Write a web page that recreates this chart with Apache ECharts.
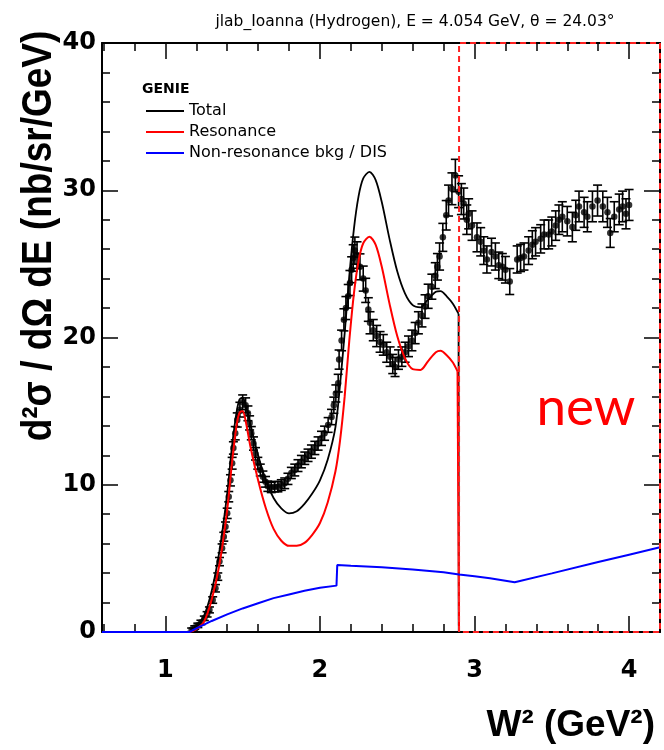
<!DOCTYPE html>
<html><head><meta charset="utf-8">
<script src="https://cdn.jsdelivr.net/npm/echarts@6/dist/echarts.min.js"></script>
<style>html,body{margin:0;padding:0;background:#fff}#c{width:664px;height:750px}</style>
</head><body><div id="c"></div>
<script>
// ---------- text ----------
const titleText = 'jlab_Ioanna (Hydrogen), E = 4.054 GeV, \u03b8 = 24.03\u00b0';
const yTitle = 'd\u00b2\u03c3 / d\u03a9 dE (nb/sr/GeV)';
const xTitle = 'W\u00b2 (GeV\u00b2)';
const legendHeader = 'GENIE';
const seriesNames = ['Total', 'Resonance', 'Non-resonance bkg / DIS'];
const stampText = 'new';

// ---------- axes ----------
const xRange = [0.59, 4.2];
const yRange = [0, 40];
const xMajorTicks = [1, 2, 3, 4];
const xMinorTicks = [0.6, 0.8, 1.2, 1.4, 1.6, 1.8, 2.2, 2.4, 2.6, 2.8, 3.2, 3.4, 3.6, 3.8];
const yMajorStep = 10;

// ---------- cut region (dashed box) ----------
const boxW = [2.9, 2.9, 4.2, 4.2, 2.9];
const boxV = [0, 40, 40, 0, 0];

// ---------- data (W^2, cross section, error) ----------
const dataW = [1.17,1.19,1.21,1.23,1.252,1.27,1.285,1.306,1.324,1.339,1.35,1.367,1.378,1.389,1.40,1.41,1.421,1.432,1.44,1.452,1.465,1.482,1.50,1.519,1.534,1.545,1.556,1.57,1.583,1.598,1.614,1.631,1.648,1.663,1.685,1.707,1.728,1.75,1.772,1.793,1.815,1.837,1.858,1.88,1.902,1.923,1.945,1.967,1.988,2.01,2.03,2.053,2.075,2.09,2.103,2.118,2.124,2.14,2.155,2.168,2.183,2.194,2.205,2.215,2.226,2.24,2.259,2.28,2.296,2.313,2.324,2.345,2.367,2.389,2.41,2.432,2.454,2.471,2.486,2.508,2.53,2.551,2.573,2.595,2.616,2.637,2.66,2.68,2.70,2.724,2.746,2.76,2.774,2.795,2.817,2.832,2.854,2.876,2.897,2.915,2.93,2.95,2.962,2.984,3.016,3.04,3.06,3.08,3.11,3.135,3.157,3.18,3.20,3.228,3.276,3.298,3.32,3.35,3.374,3.395,3.428,3.45,3.48,3.50,3.525,3.546,3.568,3.60,3.633,3.655,3.676,3.709,3.73,3.763,3.796,3.83,3.86,3.878,3.904,3.936,3.958,3.98,4.0];
const dataV = [0.15,0.3,0.45,0.65,0.93,1.2,1.5,2.17,2.97,3.76,4.78,5.68,6.47,7.15,8.06,9.19,10.3,11.46,12.5,13.5,14.4,15.1,15.6,15.4,14.85,14.2,13.5,12.8,12.1,11.46,11.0,10.55,10.2,9.9,9.82,9.87,9.87,9.98,10.1,10.4,10.8,11.0,11.3,11.57,11.8,12.0,12.25,12.5,12.8,13.15,13.5,14.06,14.6,15.4,16.2,16.9,18.5,19.8,21.2,22.0,22.8,23.7,24.6,25.4,25.9,25.6,24.8,24.0,23.2,21.9,21.0,20.5,20.1,19.7,19.5,19.0,18.7,18.2,18.0,18.5,18.7,19.0,19.4,19.8,20.3,21.0,21.5,22.1,22.8,23.45,24.2,24.8,25.5,26.8,28.3,29.3,30.1,31.0,29.9,29.4,29.1,28.0,28.4,27.6,26.8,26.5,25.9,25.3,25.8,25.5,24.9,24.8,24.6,23.8,25.3,25.4,25.5,25.9,26.3,26.5,26.7,27.0,27.0,27.2,27.6,28.0,28.2,27.9,27.5,28.3,28.9,28.5,28.2,28.9,29.3,28.9,28.5,27.1,28.2,28.7,28.9,28.4,29.0];
const dataErr = [0.12,0.12,0.15,0.15,0.15,0.18,0.2,0.22,0.25,0.25,0.28,0.3,0.3,0.32,0.35,0.35,0.38,0.4,0.42,0.45,0.48,0.5,0.5,0.5,0.5,0.48,0.45,0.45,0.42,0.4,0.4,0.38,0.36,0.35,0.35,0.35,0.35,0.36,0.36,0.38,0.38,0.4,0.4,0.42,0.42,0.42,0.45,0.45,0.45,0.48,0.48,0.5,0.52,0.55,0.58,0.6,0.65,0.7,0.75,0.78,0.8,0.85,0.88,0.9,0.92,0.9,0.88,0.85,0.82,0.8,0.75,0.72,0.72,0.7,0.7,0.68,0.66,0.65,0.65,0.66,0.66,0.68,0.7,0.7,0.72,0.75,0.78,0.8,0.82,0.85,0.88,0.9,0.92,0.95,1.0,1.05,1.08,1.1,1.08,1.05,1.05,1.0,1.02,1.0,0.98,0.96,0.94,0.92,0.94,0.92,0.9,0.9,0.9,0.88,0.92,0.92,0.92,0.94,0.95,0.96,0.96,0.98,0.98,0.98,1.0,1.0,1.02,1.0,1.0,1.02,1.04,1.02,1.02,1.04,1.05,1.04,1.02,0.98,1.02,1.04,1.04,1.02,1.05];

// ---------- GENIE curves (smooth part) ----------
const totalW = [0.59,1.15,1.2,1.25,1.3,1.35,1.4,1.43,1.46,1.48,1.5,1.52,1.55,1.6,1.65,1.7,1.75,1.8,1.85,1.9,1.95,2.0,2.05,2.1,2.13,2.16,2.19,2.22,2.25,2.28,2.32,2.36,2.4,2.45,2.5,2.55,2.6,2.65,2.7,2.75,2.78,2.82,2.86,2.897];
const totalV = [0,0,0.4,1.1,2.8,5.5,9.4,12.5,14.9,15.8,15.9,15.4,14.1,12.0,10.3,9.1,8.4,8.05,8.2,8.7,9.4,10.3,11.7,13.9,16.8,20.3,24.2,27.4,29.6,30.8,31.25,30.7,29.2,26.7,24.5,23.0,22.2,22.05,22.6,23.1,23.15,22.8,22.3,21.6];
const resW = [0.59,1.15,1.2,1.25,1.3,1.35,1.4,1.43,1.46,1.48,1.5,1.52,1.55,1.6,1.65,1.7,1.75,1.8,1.85,1.9,1.95,2.0,2.05,2.1,2.13,2.16,2.19,2.22,2.25,2.28,2.32,2.36,2.4,2.45,2.5,2.55,2.6,2.65,2.7,2.75,2.78,2.82,2.86,2.89];
const resV = [0,0,0.2,0.7,2.2,4.6,8.3,11.4,14.0,14.9,15.0,14.3,12.6,10.3,8.4,7.0,6.2,5.85,5.85,6.05,6.6,7.4,8.8,10.9,13.0,16.0,19.8,23.0,25.2,26.4,26.85,26.3,24.8,22.3,20.1,18.6,17.85,17.8,18.4,19.0,19.1,18.8,18.3,17.7];
// ---------- GENIE curves: vertical drop at the cut ----------
const totalDropW = [2.897, 2.898];
const totalDropV = [21.6, 0];
const resDropW = [2.89, 2.9];
const resDropV = [17.7, 0];
// ---------- non-resonant background ----------
const bkgW = [0.59,1.155,1.2,1.3,1.4,1.5,1.6,1.7,1.8,1.9,2.0,2.107,2.112,2.2,2.4,2.6,2.8,2.9,3.0,3.1,3.26,3.5,3.8,4.0,4.2];
const bkgV = [0,0,0.25,0.75,1.2,1.6,1.95,2.3,2.55,2.8,3.0,3.15,4.55,4.5,4.4,4.25,4.05,3.9,3.78,3.65,3.38,3.98,4.75,5.25,5.75];

const pair = (a, b) => a.map((v, i) => [v, b[i]]);
const pts = dataW.map((w, i) => [w, dataV[i], dataErr[i]]);

const FONT = '"Liberation Sans", Arial, Helvetica, sans-serif';
const WIDE = '"DejaVu Sans", Verdana, sans-serif';
const chart = echarts.init(document.getElementById('c'), null, {renderer: 'canvas'});

function xAx(pos, ticks, len, labels, showLine) {
  return {
    type: 'value', position: pos, min: xRange[0], max: xRange[1],
    axisLine: {show: showLine, onZero: false, lineStyle: {color: '#000', width: 2}},
    axisTick: {show: true, inside: true, length: len, customValues: ticks, lineStyle: {color: '#000', width: 1.5}},
    axisLabel: labels ? {show: true, customValues: ticks, margin: 27, color: '#000',
      fontFamily: WIDE, fontWeight: 'bold', fontSize: 24} : {show: false},
    splitLine: {show: false}
  };
}
function yAx(pos, labels) {
  return {
    type: 'value', position: pos, min: yRange[0], max: yRange[1], interval: yMajorStep,
    axisLine: {show: true, onZero: false, lineStyle: {color: '#000', width: 2}},
    axisTick: {show: true, inside: true, length: 16, lineStyle: {color: '#000', width: 1.5}},
    minorTick: {show: true, splitNumber: 5, length: 8, lineStyle: {color: '#000', width: 1.5}},
    axisLabel: labels ? {show: true, margin: 6, color: '#000', fontFamily: WIDE, fontWeight: 'bold', fontSize: 24} : {show: false},
    splitLine: {show: false}
  };
}
function curve(name, data, color, width, smooth, z) {
  return {
    type: 'line', name: name, data: data, symbol: 'none', smooth: smooth,
    lineStyle: {color: color, width: width}, itemStyle: {color: color}, z: z
  };
}

const option = {
  animation: false,
  backgroundColor: '#fff',
  title: {
    text: titleText, left: 410, top: 9, textAlign: 'center',
    textStyle: {fontFamily: WIDE, fontWeight: 'normal', fontSize: 15.5, color: '#000'}
  },
  grid: {left: 102, top: 43, width: 558, height: 589},
  xAxis: [
    xAx('bottom', xMajorTicks, 16, true, true),
    xAx('bottom', xMinorTicks, 8, false, false),
    xAx('top', xMajorTicks, 16, false, true),
    xAx('top', xMinorTicks, 8, false, false)
  ],
  yAxis: [yAx('left', true), yAx('right', false)],
  legend: {
    data: seriesNames, orient: 'vertical', left: 141, top: 98, itemGap: 5,
    itemWidth: 38, itemHeight: 2, icon: 'rect', itemStyle: {borderWidth: 0},
    textStyle: {fontFamily: WIDE, fontSize: 16, lineHeight: 16, color: '#000'},
    selectedMode: false
  },
  graphic: [
    {type: 'text', x: 142, y: 89, style: {text: legendHeader, font: 'bold 14px ' + WIDE, fill: '#000',
      textAlign: 'left', textVerticalAlign: 'middle', align: 'left', verticalAlign: 'middle'}},
    {type: 'text', x: 39, y: 236, rotation: Math.PI / 2, scaleX: 1, scaleY: 1.15,
      style: {text: yTitle, font: 'bold 37px ' + FONT, fill: '#000',
      textAlign: 'center', textVerticalAlign: 'middle', align: 'center', verticalAlign: 'middle'}},
    {type: 'text', x: 655, y: 726, style: {text: xTitle, font: 'bold 37px ' + FONT, fill: '#000',
      textAlign: 'right', textVerticalAlign: 'middle', align: 'right', verticalAlign: 'middle'}},
    {type: 'text', x: 586, y: 408, style: {text: stampText, font: '53px Lato, "Open Sans", sans-serif', fill: '#ff0000',
      textAlign: 'center', textVerticalAlign: 'middle', align: 'center', verticalAlign: 'middle'}}
  ],
  series: [
    {
      type: 'custom', name: 'data-err', xAxisIndex: 0, yAxisIndex: 0, data: pts, encode: {x: 0, y: 1}, z: 3,
      renderItem: function (params, api) {
        const x = api.value(0), y = api.value(1), e = api.value(2);
        const lo = api.coord([x, y - e]), hi = api.coord([x, y + e]);
        const hw = 4.5;
        const st = {stroke: '#000', lineWidth: 1.6};
        return {type: 'group', children: [
          {type: 'line', shape: {x1: lo[0], y1: lo[1], x2: hi[0], y2: hi[1]}, style: st},
          {type: 'line', shape: {x1: lo[0] - hw, y1: lo[1], x2: lo[0] + hw, y2: lo[1]}, style: st},
          {type: 'line', shape: {x1: hi[0] - hw, y1: hi[1], x2: hi[0] + hw, y2: hi[1]}, style: st}
        ]};
      }
    },
    {
      type: 'scatter', name: 'data', xAxisIndex: 0, yAxisIndex: 0, data: pts.map(p => [p[0], p[1]]),
      symbol: 'circle', symbolSize: 6.5, itemStyle: {color: '#000'}, z: 4
    },
    curve(seriesNames[0], pair(totalW, totalV), '#000', 1.8, 0.3, 5),
    curve(seriesNames[0], pair(totalDropW, totalDropV), '#000', 1.8, false, 5),
    curve(seriesNames[1], pair(resW, resV), '#ff0000', 2, 0.3, 6),
    curve(seriesNames[1], pair(resDropW, resDropV), '#ff0000', 2, false, 6),
    curve(seriesNames[2], pair(bkgW, bkgV), '#0000ff', 2, false, 7),
    {
      type: 'line', name: 'cut', data: pair(boxW, boxV), symbol: 'none', smooth: false, clip: false,
      lineStyle: {color: '#ff2020', width: 2, type: [6, 4]}, z: 8, silent: true
    }
  ]
};
chart.setOption(option);
</script>
</body></html>
